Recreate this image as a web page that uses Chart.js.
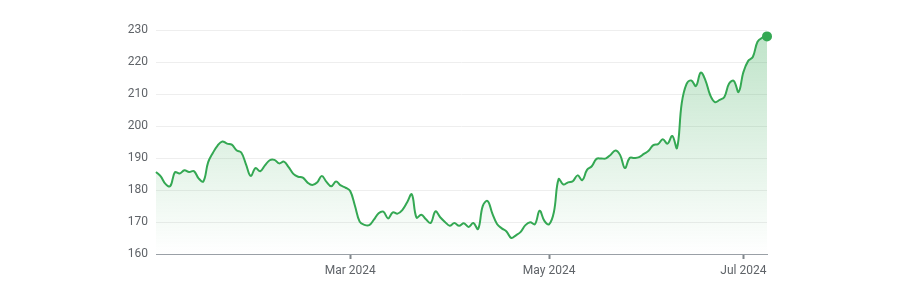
<!DOCTYPE html>
<html>
<head>
<meta charset="utf-8">
<script src="https://cdn.jsdelivr.net/npm/chart.js@4"></script>
<style>
  html, body { margin: 0; padding: 0; background: #fff; }
  #wrap { width: 900px; height: 294px; }
</style>
</head>
<body>
<div id="wrap"><canvas id="chart"></canvas></div>
<script>
/* ---------- data (trading days, Jan 2 - Jul 9 2024) ---------- */
const dates = [
  "2024-01-02","2024-01-03","2024-01-04","2024-01-05","2024-01-08","2024-01-09","2024-01-10","2024-01-11","2024-01-12",
  "2024-01-16","2024-01-17","2024-01-18","2024-01-19","2024-01-22","2024-01-23","2024-01-24","2024-01-25","2024-01-26",
  "2024-01-29","2024-01-30","2024-01-31",
  "2024-02-01","2024-02-02","2024-02-05","2024-02-06","2024-02-07","2024-02-08","2024-02-09","2024-02-12","2024-02-13",
  "2024-02-14","2024-02-15","2024-02-16","2024-02-20","2024-02-21","2024-02-22","2024-02-23","2024-02-26","2024-02-27",
  "2024-02-28","2024-02-29",
  "2024-03-01","2024-03-04","2024-03-05","2024-03-06","2024-03-07","2024-03-08","2024-03-11","2024-03-12","2024-03-13",
  "2024-03-14","2024-03-15","2024-03-18","2024-03-19","2024-03-20","2024-03-21","2024-03-22","2024-03-25","2024-03-26",
  "2024-03-27","2024-03-28",
  "2024-04-01","2024-04-02","2024-04-03","2024-04-04","2024-04-05","2024-04-08","2024-04-09","2024-04-10","2024-04-11",
  "2024-04-12","2024-04-15","2024-04-16","2024-04-17","2024-04-18","2024-04-19","2024-04-22","2024-04-23","2024-04-24",
  "2024-04-25","2024-04-26","2024-04-29","2024-04-30",
  "2024-05-01","2024-05-02","2024-05-03","2024-05-06","2024-05-07","2024-05-08","2024-05-09","2024-05-10","2024-05-13",
  "2024-05-14","2024-05-15","2024-05-16","2024-05-17","2024-05-20","2024-05-21","2024-05-22","2024-05-23","2024-05-24",
  "2024-05-28","2024-05-29","2024-05-30","2024-05-31",
  "2024-06-03","2024-06-04","2024-06-05","2024-06-06","2024-06-07","2024-06-10","2024-06-11","2024-06-12","2024-06-13",
  "2024-06-14","2024-06-17","2024-06-18","2024-06-20","2024-06-21","2024-06-24","2024-06-25","2024-06-26","2024-06-27",
  "2024-06-28",
  "2024-07-01","2024-07-02","2024-07-03","2024-07-05","2024-07-08","2024-07-09"
];

const prices = [
  185.64,184.25,181.91,181.18,185.56,185.14,186.19,185.59,185.92,
  183.63,182.68,188.63,191.56,193.89,195.18,194.50,194.17,192.42,
  191.73,188.04,184.40,
  186.86,185.85,187.68,189.30,189.41,188.32,188.85,187.15,185.04,
  184.15,183.86,182.31,181.56,182.32,184.37,182.52,181.16,182.63,
  181.42,180.75,
  179.66,175.10,170.12,169.12,169.00,170.73,172.75,173.23,171.13,
  173.00,172.62,173.72,176.08,178.67,171.37,172.28,170.85,169.71,
  173.31,171.48,
  170.03,168.84,169.65,168.82,169.58,168.45,169.67,167.78,175.04,
  176.55,172.69,169.38,168.00,167.04,165.00,165.84,166.90,169.02,
  169.89,169.30,173.50,170.33,
  169.30,173.03,183.38,181.71,182.40,182.74,184.57,183.05,186.28,
  187.43,189.72,189.84,189.87,191.04,192.35,190.90,186.88,189.98,
  189.99,190.29,191.29,192.25,
  194.03,194.35,195.87,194.48,196.89,193.12,207.15,213.07,214.24,
  212.49,216.67,214.29,209.68,207.49,208.14,209.07,213.25,214.10,
  210.62,
  216.75,220.27,221.55,226.34,227.60,228.00
];

const tickDates = ["2024-03-01", "2024-05-01", "2024-07-01"];
const tickLabels = ["Mar 2024", "May 2024", "Jul 2024"];

const yMin = 160, yMax = 230, yStep = 10;

/* ---------- chart ---------- */
const green = "#34a853";
const tickIdx = tickDates.map(d => dates.indexOf(d));

function fillGradient(context) {
  const area = context.chart.chartArea;
  if (!area) return "rgba(52,168,83,0.1)";
  const g = context.chart.ctx.createLinearGradient(0, area.top, 0, area.bottom);
  g.addColorStop(0, "rgba(52,168,83,0.32)");
  g.addColorStop(1, "rgba(52,168,83,0)");
  return g;
}

new Chart(document.getElementById("chart"), {
  type: "line",
  data: {
    labels: dates,
    datasets: [{
      data: prices,
      borderColor: green,
      borderWidth: 2,
      tension: 0.4,
      fill: "start",
      backgroundColor: fillGradient,
      pointRadius: ctx => ctx.dataIndex === prices.length - 1 ? 5 : 0,
      pointHoverRadius: 0,
      pointBackgroundColor: green,
      pointBorderColor: green,
      pointBorderWidth: 0
    }]
  },
  options: {
    responsive: true,
    maintainAspectRatio: false,
    animation: false,
    layout: { padding: { top: 30, right: 133, bottom: 0, left: 0 } },
    plugins: { legend: { display: false }, tooltip: { enabled: false } },
    scales: {
      x: {
        type: "category",
        offset: false,
        afterBuildTicks: axis => {
          axis.ticks = tickIdx.map(i => ({ value: i }));
        },
        afterFit: axis => { axis.height = 40; },
        ticks: {
          autoSkip: false,
          maxRotation: 0,
          padding: 5,
          color: "#5f6368",
          font: { family: "Roboto", size: 12 },
          callback: v => tickLabels[tickIdx.indexOf(v)]
        },
        grid: {
          drawOnChartArea: false,
          drawTicks: true,
          tickLength: 5,
          tickColor: "#80868b",
          tickWidth: 2
        },
        border: { display: true, color: "#9aa0a6", width: 1 }
      },
      y: {
        min: yMin,
        max: yMax,
        afterFit: axis => { axis.width = 156; },
        ticks: {
          stepSize: yStep,
          padding: 8,
          color: "#5f6368",
          font: { family: "Roboto", size: 12 }
        },
        grid: { color: "#eeeeee", drawTicks: false },
        border: { display: false }
      }
    }
  }
});
</script>
</body>
</html>
